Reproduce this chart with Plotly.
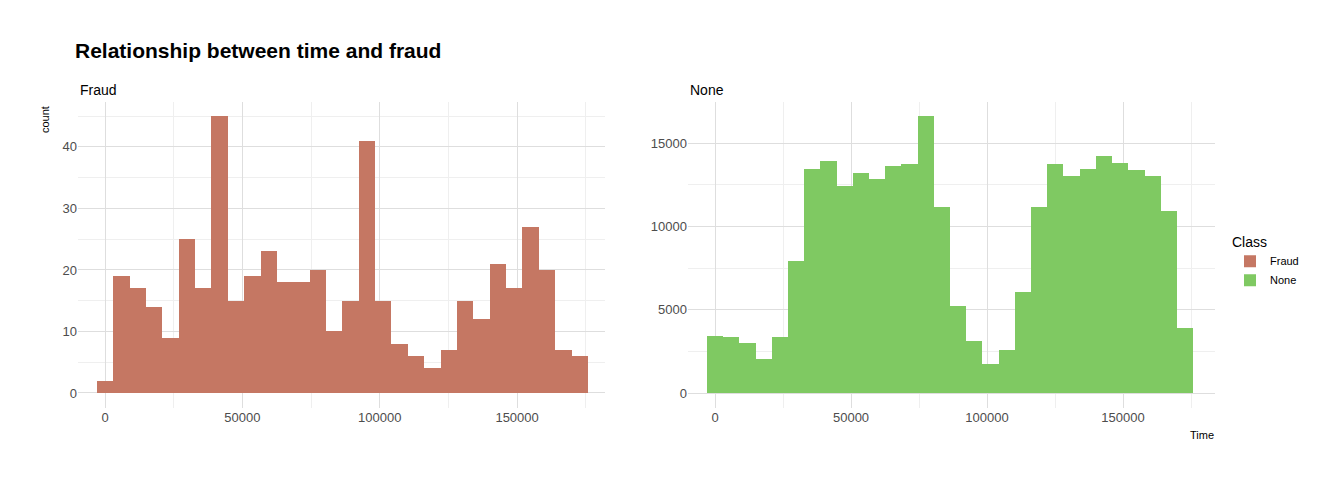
import numpy as np
import plotly.graph_objects as go

bin_width = 172792 / 29
fraud_counts = [2, 19, 17, 14, 9, 25, 17, 45, 15, 19, 23, 18, 18, 20, 10,
                15, 41, 15, 8, 6, 4, 7, 15, 12, 21, 17, 27, 20, 7, 6]
none_counts = [3450, 3350, 3000, 2050, 3350, 7950, 13450, 13900, 12400, 13200,
               12850, 13650, 13750, 16600, 11150, 5250, 3150, 1750, 2600, 6050,
               11150, 13750, 13050, 13450, 14200, 13800, 13400, 13050, 10900, 3900]
x_ticks = [0, 50000, 100000, 150000]
x_labels = ["0", "50000", "100000", "150000"]
centers = np.arange(30) * bin_width

W, H, OFF = 1344, 480, 8


def px(v):
    return (v - OFF) / W


def py(v):
    return 1 - (v - OFF) / H


fig = go.Figure()
fig.add_trace(go.Bar(x=centers, y=fraud_counts, width=bin_width, name="Fraud",
                     marker=dict(color="#C57763", line=dict(width=0)),
                     xaxis="x", yaxis="y"))
fig.add_trace(go.Bar(x=centers, y=none_counts, width=bin_width, name="None",
                     marker=dict(color="#7FC962", line=dict(width=0)),
                     xaxis="x2", yaxis="y2"))

grid = "#dedede"
ax = dict(showgrid=True, gridcolor=grid, zeroline=False, showline=False, ticks="",
          tickfont=dict(size=13, color="#4d4d4d"))
xminor = dict(showgrid=True, gridcolor="#efefef", tick0=25000, dtick=50000)
fig.update_layout(
    width=W, height=H, margin=dict(l=0, r=0, t=0, b=0),
    paper_bgcolor="white", plot_bgcolor="white", bargap=0,
    font=dict(family="Liberation Sans, Arial", color="black"),
    xaxis=dict(domain=[px(78), px(605)], range=[-9830, 182000], tickvals=x_ticks, ticktext=x_labels,
               anchor="y", minor=xminor, **ax),
    yaxis=dict(domain=[py(408), py(102)], range=[-2.44, 47.3], tickvals=[0, 10, 20, 30, 40],
               anchor="x", minor=dict(showgrid=True, gridcolor="#efefef", tick0=5, dtick=10), **ax),
    xaxis2=dict(domain=[px(688), px(1215)], range=[-9926, 183800], tickvals=x_ticks, ticktext=x_labels,
                anchor="y2", minor=xminor, **ax),
    yaxis2=dict(domain=[py(408), py(102)], range=[-900, 17460], tickvals=[0, 5000, 10000, 15000],
                ticktext=["0", "5000", "10000", "15000"], anchor="x2",
                minor=dict(showgrid=True, gridcolor="#efefef", tick0=2500, dtick=5000), **ax),
    legend=dict(x=px(1230), y=py(262), xanchor="left", yanchor="middle",
                title=dict(text="Class", font=dict(size=14)), font=dict(size=11)),
    annotations=[
        dict(text="<b>Relationship between time and fraud</b>", x=px(73), y=py(50),
             xref="paper", yref="paper", xanchor="left", yanchor="middle", showarrow=False, font=dict(size=21)),
        dict(text="Fraud", x=px(78), y=py(90), xref="paper", yref="paper",
             xanchor="left", yanchor="middle", showarrow=False, font=dict(size=14)),
        dict(text="None", x=px(688), y=py(90), xref="paper", yref="paper",
             xanchor="left", yanchor="middle", showarrow=False, font=dict(size=14)),
        dict(text="count", x=px(45), y=py(120), xref="paper", yref="paper",
             textangle=-90, xanchor="center", yanchor="middle", showarrow=False, font=dict(size=11)),
        dict(text="Time", x=px(1216), y=py(435), xref="paper", yref="paper",
             xanchor="right", yanchor="middle", showarrow=False, font=dict(size=11)),
    ],
)
fig.write_html("out.html")
